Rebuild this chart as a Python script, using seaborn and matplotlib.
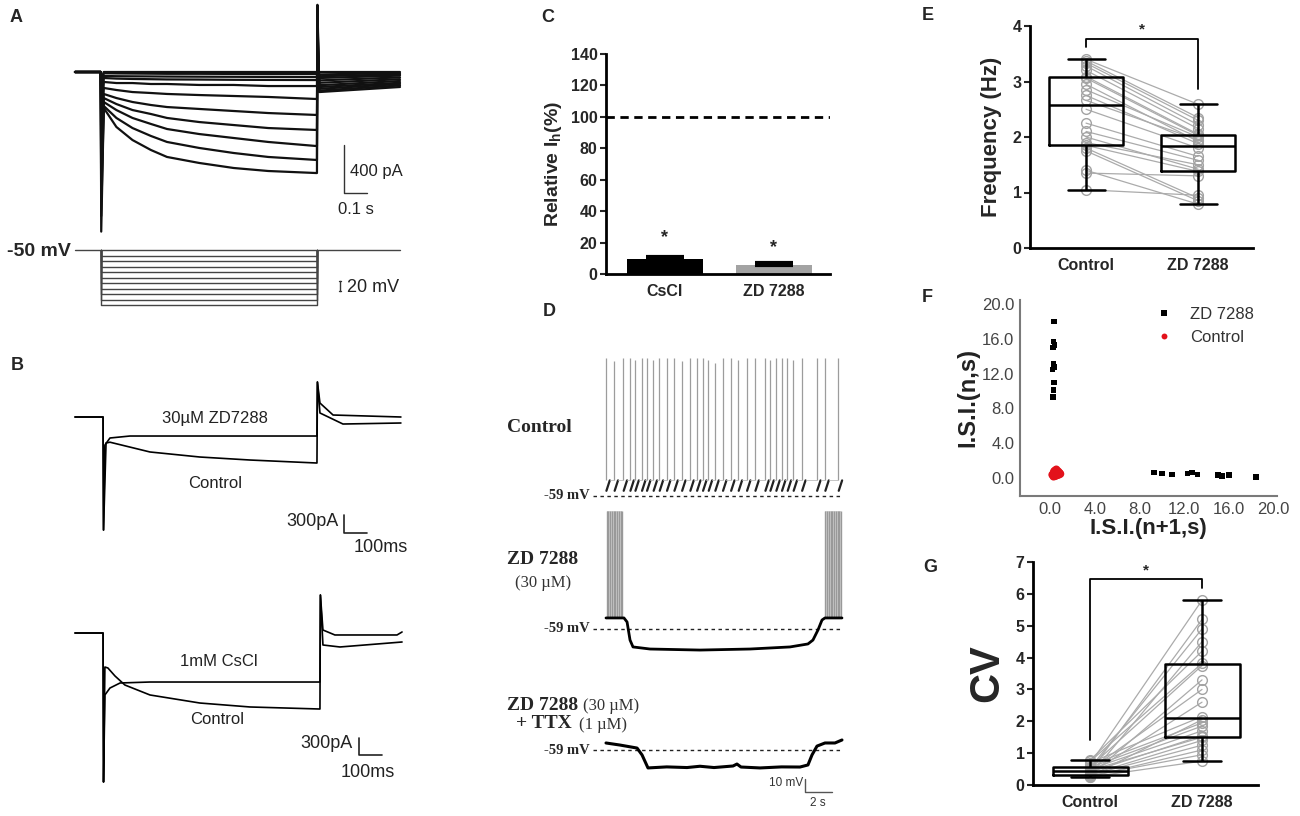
import numpy as np
import pandas as pd
import matplotlib
matplotlib.use("Agg")
import matplotlib.pyplot as plt
import seaborn as sns

sns.set_theme(style="ticks")
plt.rcParams['font.family'] = ['Liberation Sans', 'DejaVu Sans']
plt.rcParams['mathtext.fontset'] = 'custom'
plt.rcParams['mathtext.rm'] = 'Liberation Sans:bold'
plt.rcParams['mathtext.it'] = 'Liberation Sans:bold'
plt.rcParams['mathtext.bf'] = 'Liberation Sans:bold'
SERIF = ['Liberation Serif', 'DejaVu Serif']

# ---------------- data ----------------
# A: Ih family (s, pA)
a_t_on, a_t_off, a_t_end = 0.113, 1.052, 1.413
a_step_t = [0.125, 0.18, 0.25, 0.33, 0.40, 0.54, 0.69, 0.84, 1.05]
a_step_pA = [
    [0, 0, 0, 0, 0, 0, 0, 0, 0],
    [-10, -12, -13, -14, -15, -15, -16, -17, -17],
    [-33, -35, -36, -37, -38, -39, -40, -41, -42],
    [-50, -55, -58, -60, -62, -63, -65, -66, -67],
    [-83, -92, -92, -100, -100, -108, -108, -117, -117],
    [-133, -150, -167, -175, -183, -192, -200, -208, -225],
    [-183, -217, -250, -275, -292, -308, -325, -342, -358],
    [-217, -267, -317, -350, -383, -417, -442, -467, -483],
    [-250, -317, -383, -433, -475, -517, -550, -583, -617],
    [-283, -383, -467, -533, -583, -633, -675, -708, -733],
    [-300, -458, -567, -650, -708, -758, -800, -825, -842],
]
a_on_peak = [-60, -150, -250, -350, -450, -600, -750, -900, -1050, -1200, -1330]
a_off_peak = [20, 60, 100, 150, 200, 260, 320, 380, 440, 500, 560]
a_tail_start = [0, -20, -35, -50, -70, -90, -110, -125, -140, -155, -167]
a_tail_end = [0, -10, -20, -30, -45, -60, -75, -90, -100, -112, -125]
a_hold_mV = -50
a_steps_mV = [-60, -70, -80, -90, -100, -110, -120, -130, -140, -150]

# B: ZD7288 / CsCl vs control (s, pA)
b1_zd_t = [0, 0.122, 0.124, 0.130, 0.152, 0.239, 1.052, 1.054, 1.065, 1.122, 1.417]
b1_zd_pA = [0, 0, -1883, -467, -350, -317, -317, 583, 233, 33, 0]
b1_ctl_t = [0, 0.122, 0.124, 0.135, 0.152, 0.326, 0.543, 0.761, 1.052, 1.054, 1.065, 1.165, 1.417]
b1_ctl_pA = [0, 0, -1883, -433, -420, -583, -667, -717, -767, 583, 67, -117, -100]
b2_cs_t = [0, 0.122, 0.124, 0.130, 0.152, 0.196, 0.326, 1.065, 1.067, 1.078, 1.152, 1.422]
b2_cs_pA = [0, 0, -2483, -1033, -917, -833, -817, -817, 633, -200, -233, -150]
b2_ctl_t = [0, 0.122, 0.124, 0.130, 0.143, 0.174, 0.217, 0.326, 0.543, 0.761, 1.065, 1.067, 1.078, 1.13, 1.40, 1.422]
b2_ctl_pA = [0, 0, -2483, -567, -583, -717, -867, -1033, -1167, -1233, -1267, 633, 50, -33, -33, 17]

# C: relative Ih
c_groups = ['CsCl', 'ZD 7288']
c_means = [9.5, 5.7]
c_sem = [1.3, 1.3]
c_star = [23, 17]

# D: membrane potential (s, mV)
d_spike_t = [0.00, 0.61, 1.28, 1.78, 2.15, 2.64, 3.01, 3.50, 3.95, 4.49, 5.04, 5.61, 6.22, 6.72, 7.16, 7.58,
             8.07, 8.64, 9.24, 9.80, 10.42, 11.04, 11.78, 12.15, 12.59, 13.01, 13.43, 13.87, 14.50, 15.61,
             16.22, 17.21]
d_spike_peak = [47, 45, 47, 47, 46, 47, 47, 46, 47, 47, 47, 45, 47, 47, 47, 46,
                43, 47, 47, 46, 47, 47, 47, 46, 47, 47, 47, 46, 47, 47, 47, 47]
d_thresh, d_ahp = -47, -55
d2_burst1_t = [0.05, 0.18, 0.31, 0.44, 0.57, 0.70, 0.83, 0.96, 1.09, 1.22]
d2_burst2_t = [16.25, 16.38, 16.51, 16.64, 16.77, 16.90, 17.03, 17.16, 17.29, 17.42]
d2_burst_peak, d2_burst_base = 32, -50.5
d2_t = [0, 1.33, 1.56, 1.78, 2.0, 3.26, 6.96, 10.67, 13.63, 14.96, 15.33, 15.70, 16.0, 16.22, 17.48]
d2_mV = [-50.5, -50.5, -53.6, -67.5, -72.8, -74.4, -75.2, -74.4, -72.8, -70.5, -67.5, -59.8, -52.1, -50.5, -50.5]
d3_t = [0, 1.04, 2.30, 2.67, 3.11, 4.5, 6.0, 6.96, 8.0, 9.41, 9.70, 10.0, 11.41, 13.0, 14.37, 14.96,
        15.26, 15.63, 16.22, 16.96, 17.48]
d3_mV = [-53.6, -55.2, -57.5, -62.8, -72.8, -72.0, -72.5, -71.5, -72.5, -71.3, -69.8, -72.1, -72.8, -72.0,
         -72.1, -70.5, -62.8, -56.0, -53.6, -53.6, -51.3]

# E: firing frequency (Hz), paired
e_control = [1.05, 1.35, 1.40, 1.75, 1.80, 1.85, 1.90, 2.00, 2.10, 2.25, 2.50, 2.66, 2.75, 2.85, 2.95,
             3.06, 3.09, 3.20, 3.28, 3.33, 3.37, 3.40]
e_zd = [0.95, 1.30, 0.79, 0.85, 0.90, 1.38, 1.50, 1.42, 1.58, 1.65, 1.80, 1.95, 1.88, 2.00, 1.92,
        2.03, 2.05, 2.15, 2.22, 2.30, 2.35, 2.59]

# F: ISI return map (s)
f_zd_x = [0.35, 0.30, 0.40, 0.25, 0.30, 0.40, 0.20, 0.35, 0.30, 0.25, 9.3, 10.0, 10.9, 12.3, 12.7, 13.2, 15.0, 15.4, 16.0, 18.4]
f_zd_y = [18.0, 15.7, 15.3, 15.0, 13.1, 12.8, 12.5, 11.0, 10.1, 9.3, 0.6, 0.5, 0.4, 0.5, 0.6, 0.4, 0.3, 0.2, 0.3, 0.1]
f_ctl_x = [0.20, 0.30, 0.35, 0.40, 0.45, 0.50, 0.55, 0.60, 0.65, 0.70, 0.75, 0.80, 0.85, 0.50, 0.55, 0.60,
           0.70, 0.40, 0.45, 0.65, 0.35, 0.75, 0.90, 0.30, 0.55]
f_ctl_y = [0.35, 0.50, 0.30, 0.60, 0.45, 0.70, 0.40, 0.55, 0.65, 0.50, 0.45, 0.60, 0.50, 0.85, 0.95, 0.30,
           0.75, 0.80, 0.20, 0.40, 0.70, 0.35, 0.45, 0.15, 0.60]

# G: coefficient of variation, paired
g_control = [0.25, 0.26, 0.28, 0.29, 0.30, 0.31, 0.31, 0.33, 0.36, 0.40, 0.42, 0.46, 0.48, 0.50, 0.53,
             0.55, 0.565, 0.62, 0.66, 0.70, 0.74, 0.78]
g_zd = [0.75, 1.10, 2.05, 0.95, 3.30, 1.25, 4.50, 1.40, 2.60, 1.55, 5.20, 1.50, 3.00, 1.70, 4.90,
        1.85, 3.75, 1.95, 5.80, 2.15, 3.82, 4.20]

# ---------------- figure ----------------
W, H = 1300, 816
fig = plt.figure(figsize=(13, 8.16), dpi=100)


def box(l, t, r, b):
    return [l / W, 1 - b / H, (r - l) / W, (b - t) / H]


def trace_ax(l, t, r, b, fx, fy):
    ax = fig.add_axes(box(l, t, r, b))
    ax.set_xlim(fx(l), fx(r))
    ax.set_ylim(fy(b), fy(t))
    ax.axis('off')
    return ax


def label(x, y, s, **kw):
    kw.setdefault('va', 'center')
    fig.text(x / W, 1 - y / H, s, **kw)


for s, x, y in [('A', 16, 18), ('B', 17, 365), ('C', 548, 17), ('D', 549, 312),
                ('E', 928, 15), ('F', 927, 298), ('G', 930, 567)]:
    label(x, y, s, ha='center', fontsize=13, fontweight='bold')

# ---- A ----
a_px_t = lambda x: (x - 75) * 0.1 / 23
a_px_i = lambda y: -(y - 72) * 400 / 48
axA = trace_ax(60, 0, 430, 240, a_px_t, a_px_i)
for on, steps, off, ts, te in zip(a_on_peak, a_step_pA, a_off_peak, a_tail_start, a_tail_end):
    t = [0, a_t_on - 0.001, a_t_on + 0.001] + a_step_t + [a_t_off, a_t_off + 0.002, a_t_off + 0.01, a_t_end]
    i = [0, 0, on] + steps + [steps[-1], off, ts, te]
    axA.plot(t, i, color='#111', lw=1.6)
axA.plot([1.170, 1.170, 1.270], [-608, -1008, -1008], color='#333', lw=1)
axA.text(1.196, -833, '400 pA', fontsize=12, va='center', color='#222')
axA.text(1.222, -1150, '0.1 s', fontsize=12, va='center', ha='center', color='#222')

v_px = lambda y: a_hold_mV - (y - 250) / 0.55
axV = trace_ax(60, 240, 430, 312, a_px_t, v_px)
axV.plot([0, a_t_end], [a_hold_mV, a_hold_mV], color='#444', lw=1)
for v in a_steps_mV:
    axV.plot([a_t_on, a_t_on, a_t_off, a_t_off], [a_hold_mV, v, v, a_hold_mV], color='#444', lw=1)
tb = a_px_t(340)
axV.plot([tb, tb], [-106, -124], color='#333', lw=1)
axV.plot([tb - 0.004, tb + 0.004], [-106, -106], color='#333', lw=1)
axV.plot([tb - 0.004, tb + 0.004], [-124, -124], color='#333', lw=1)
label(347, 287, '20 mV', fontsize=13, color='#222')
label(71, 251, '-50 mV', ha='right', fontsize=14, fontweight='bold')

# ---- B ----
b1_px_i = lambda y: -(y - 417) * 300 / 18
axB1 = trace_ax(60, 370, 430, 560, a_px_t, b1_px_i)
axB1.plot(b1_ctl_t, b1_ctl_pA, color='black', lw=1.2)
axB1.plot(b1_zd_t, b1_zd_pA, color='black', lw=1.2)
axB1.plot([1.170, 1.170, 1.270], [-1633, -1933, -1933], color='#222', lw=1.2)
axB1.text(1.148, -1750, '300pA', ha='right', va='center', fontsize=13, color='#222')
axB1.text(1.33, -2183, '100ms', ha='center', va='center', fontsize=13, color='#222')
axB1.text(0.609, -17, '30µM ZD7288', ha='center', va='center', fontsize=12, color='#222')
axB1.text(0.609, -1100, 'Control', ha='center', va='center', fontsize=12, color='#222')

b2_px_i = lambda y: -(y - 633) * 300 / 18
axB2 = trace_ax(60, 585, 430, 790, a_px_t, b2_px_i)
axB2.plot(b2_ctl_t, b2_ctl_pA, color='black', lw=1.2)
axB2.plot(b2_cs_t, b2_cs_pA, color='black', lw=1.2)
axB2.plot([1.235, 1.235, 1.335], [-1750, -2033, -2033], color='#222', lw=1.2)
axB2.text(1.209, -1850, '300pA', ha='right', va='center', fontsize=13, color='#222')
axB2.text(1.274, -2317, '100ms', ha='center', va='center', fontsize=13, color='#222')
axB2.text(0.626, -483, '1mM CsCl', ha='center', va='center', fontsize=12, color='#222')
axB2.text(0.617, -1450, 'Control', ha='center', va='center', fontsize=12, color='#222')

# ---- C ----
axC = fig.add_axes(box(606, 54, 830, 274))
sns.barplot(x=c_groups, y=c_means, hue=c_groups, palette=['black', '#a3a3a3'], width=0.70,
            legend=False, ax=axC, edgecolor='none')
axC.errorbar([0, 1], c_means, yerr=[[0, 0], c_sem], fmt='none', ecolor='black',
             elinewidth=3, capsize=14, capthick=3)
axC.axhline(100, ls=(0, (3, 2)), lw=2, color='black')
for i, y in enumerate(c_star):
    axC.text(i, y, '*', ha='center', va='center', fontsize=13, fontweight='bold')
axC.set_xlim(-0.541, 1.514)
axC.set_ylim(0, 140)
axC.set_yticks(range(0, 141, 20))
axC.set_ylabel(r'Relative I$_\mathrm{h}$(%)', fontsize=14, fontweight='bold', labelpad=5)

# ---- D ----
d_px_t = lambda x: (x - 606) / 13.5
d1_px_v = lambda y: -59 + (496 - y) / 1.3
d2_px_v = lambda y: -59 + (629 - y) / 1.3
d3_px_v = lambda y: -59 + (750 - y) / 1.3
axD1 = trace_ax(590, 340, 850, 505, d_px_t, d1_px_v)
axD2 = trace_ax(590, 505, 850, 680, d_px_t, d2_px_v)
axD3 = trace_ax(590, 725, 850, 812, d_px_t, d3_px_v)
t_start, t_stop = d_px_t(593), d_px_t(842)
for ax in (axD1, axD2, axD3):
    ax.plot([t_start, t_stop], [-59, -59], ls=(0, (2.5, 2.5)), color='#222', lw=1)

axD1.vlines(d_spike_t, d_thresh, d_spike_peak, color='#9c9c9c', lw=0.9)
for k, t in enumerate(d_spike_t):
    axD1.plot([t + 0.03, t + 0.28], [d_ahp, d_thresh], color='#222', lw=1.6)
    nxt = d_spike_t[k + 1] if k + 1 < len(d_spike_t) else t_stop
    axD1.plot([t + 0.28, nxt], [d_thresh, d_thresh], color='#bbbbbb', lw=0.6)

for bt in (d2_burst1_t, d2_burst2_t):
    axD2.fill_between([bt[0], bt[-1]], d2_burst_base, d2_burst_peak, color='#d4d4d4', lw=0)
    axD2.vlines(bt, d2_burst_base, d2_burst_peak, color='#999999', lw=1.0)
axD2.plot(d2_t, d2_mV, color='black', lw=2)

axD3.plot(d3_t, d3_mV, color='black', lw=2.2)
axD3.plot([14.74, 14.74, 16.74], [-81.3, -91.3, -91.3], color='#555', lw=1)
axD3.text(14.59, -84.4, '10 mV', ha='right', va='center', fontsize=8.5, color='#333')
axD3.text(15.70, -99.8, '2 s', ha='center', va='center', fontsize=8.5, color='#333')

label(507, 427, 'Control', family=SERIF, fontweight='bold', fontsize=14)
label(507, 560, 'ZD 7288', family=SERIF, fontweight='bold', fontsize=14)
label(543, 583, '(30 µM)', ha='center', family=SERIF, fontsize=12, color='#333')
label(507, 705, 'ZD 7288', family=SERIF, fontweight='bold', fontsize=14)
label(583, 706, '(30 µM)', family=SERIF, fontsize=12, color='#333')
label(516, 724, '+ TTX', family=SERIF, fontweight='bold', fontsize=14)
label(579, 725, '(1 µM)', family=SERIF, fontsize=12, color='#333')
for y in (496, 629, 750):
    label(590, y, '-59 mV', ha='right', family=SERIF, fontweight='bold', fontsize=10.5)


# ---- E & G paired box plots ----
def paired_box(ax, ctl, zd, width):
    df = pd.DataFrame({'group': ['Control'] * len(ctl) + ['ZD 7288'] * len(zd), 'value': ctl + zd})
    for c, z in zip(ctl, zd):
        ax.plot([0, 1], [c, z], color='#ababab', lw=0.9, zorder=1)
    ax.plot([0] * len(ctl), ctl, 'o', mfc='none', mec='#a3a3a3', ms=7, mew=1, zorder=2)
    ax.plot([1] * len(zd), zd, 'o', mfc='none', mec='#a3a3a3', ms=7, mew=1, zorder=2)
    sns.boxplot(data=df, x='group', y='value', order=['Control', 'ZD 7288'], whis=(0, 100),
                width=width, fill=False, color='black', linewidth=1.8, showfliers=False, ax=ax)
    ax.set_xlabel('')


axE = fig.add_axes(box(1030, 26, 1253, 248))
paired_box(axE, e_control, e_zd, 0.66)
axE.plot([0, 0, 1, 1], [3.62, 3.77, 3.77, 2.86], color='black', lw=1.3)
axE.text(0.5, 3.93, '*', ha='center', va='center', fontsize=11, fontweight='bold')
axE.set_xlim(-0.5, 1.49)
axE.set_ylim(0, 4)
axE.set_yticks(range(0, 5))
axE.set_ylabel('Frequency (Hz)', fontsize=16, fontweight='bold', labelpad=8)

axG = fig.add_axes(box(1033, 562, 1258, 785))
paired_box(axG, g_control, g_zd, 0.67)
axG.plot([0, 0, 1, 1], [1.4, 6.46, 6.46, 6.17], color='black', lw=1.3)
axG.text(0.5, 6.72, '*', ha='center', va='center', fontsize=11, fontweight='bold')
axG.set_xlim(-0.51, 1.5)
axG.set_ylim(0, 7)
axG.set_yticks(range(0, 8))
axG.set_ylabel('CV', fontsize=30, fontweight='bold', labelpad=6)

for ax in (axC, axE, axG):
    sns.despine(ax=ax)
    for sp in ('left', 'bottom'):
        ax.spines[sp].set_linewidth(2)
        ax.spines[sp].set_color('black')
    ax.tick_params(axis='y', direction='out', length=4, width=1.5, labelsize=11.5, pad=2)
    ax.tick_params(axis='x', length=0, labelsize=11.5, pad=7)
    for lab in ax.get_xticklabels() + ax.get_yticklabels():
        lab.set_fontweight('bold')

# ---- F ----
axF = fig.add_axes(box(1020, 300, 1277, 496))
dfF = pd.DataFrame({'x': f_zd_x + f_ctl_x, 'y': f_zd_y + f_ctl_y,
                    'group': ['ZD 7288'] * len(f_zd_x) + ['Control'] * len(f_ctl_x)})
sns.scatterplot(data=dfF, x='x', y='y', hue='group', style='group',
                palette={'ZD 7288': 'black', 'Control': '#e3121b'},
                markers={'ZD 7288': 's', 'Control': 'o'}, s=18, linewidth=0, ax=axF)
axF.collections[0].set_sizes([16] * len(f_zd_x) + [34] * len(f_ctl_x))
sns.move_legend(axF, 'upper right', bbox_to_anchor=(0.97, 1.04), frameon=False, title=None,
                fontsize=12, handletextpad=0.6, labelspacing=0.45)
for tx in axF.get_legend().get_texts():
    tx.set_color('#333')
axF.set_xlim(-2.7, 20.3)
axF.set_ylim(-2.1, 20.5)
ticks = [0, 4, 8, 12, 16, 20]
axF.set_xticks(ticks, [f'{v:.1f}' for v in ticks])
axF.set_yticks(ticks, [f'{v:.1f}' for v in ticks])
sns.despine(ax=axF)
for sp in ('left', 'bottom'):
    axF.spines[sp].set_linewidth(1.5)
    axF.spines[sp].set_color('#7a7a7a')
axF.tick_params(length=0, labelsize=12, labelcolor='#444', pad=4)
axF.set_xlabel('I.S.I.(n+1,s)', fontsize=16, fontweight='bold', color='#222', labelpad=1)
axF.set_ylabel('I.S.I.(n,s)', fontsize=17, fontweight='bold', color='#222', labelpad=2)

fig.savefig('out.png', dpi=100)
